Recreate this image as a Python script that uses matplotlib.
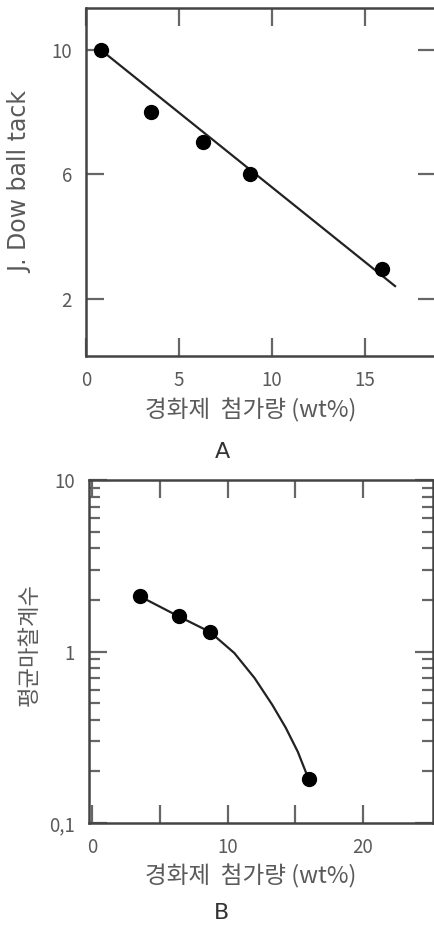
import numpy as np
import matplotlib
matplotlib.use('Agg')
import matplotlib.pyplot as plt
from matplotlib.ticker import LogLocator, NullFormatter, FixedLocator

plt.rcParams['font.family'] = ['Noto Sans CJK KR', 'DejaVu Sans']

# Panel A: J. Dow ball tack vs hardener content
a_x = [0.8, 3.5, 6.3, 8.8, 15.9]
a_y = [10.0, 8.0, 7.05, 6.0, 2.95]
a_fit_x = [0.8, 16.6]
a_fit_y = [10.0, 2.4]

# Panel B: average friction coefficient vs hardener content
b_x = [3.5, 6.4, 8.7, 16.0]
b_y = [2.1, 1.6, 1.3, 0.18]
b_curve_x = [3.5, 6.4, 8.7, 10.5, 12.0, 13.3, 14.3, 15.2, 16.0]
b_curve_y = [2.1, 1.6, 1.3, 0.98, 0.70, 0.49, 0.36, 0.26, 0.18]

xlab = '경화제  첨가량 (wt%)'
gray = '#444444'
txt = '#5a5a5a'

fig = plt.figure(figsize=(4.34, 9.25), dpi=100)

# ---- panel A
ax1 = fig.add_axes([86/434, 1 - 356/925, 350/434, 348/925])
ax1.plot(a_fit_x, a_fit_y, color='#222222', lw=1.6)
ax1.plot(a_x, a_y, 'o', color='black', ms=10)
ax1.set_xlim(0, 18.8)
ax1.set_ylim(0.15, 11.35)
ax1.set_xticks([0, 5, 10, 15])
ax1.set_yticks([2, 6, 10])
ax1.tick_params(direction='in', top=True, right=True, length=13, width=1.6,
                color='#666666', labelsize=13.5, labelcolor=txt)
ax1.tick_params(axis='x', pad=10)
ax1.tick_params(axis='y', pad=10)
ax1.set_xlabel(xlab, fontsize=17, color=txt, labelpad=3)
ax1.xaxis.set_label_coords(0.47, -0.12)
ax1.set_ylabel('J. Dow ball tack', fontsize=17, color=txt, labelpad=14,
               family='DejaVu Sans')
for s in ax1.spines.values():
    s.set_color(gray)
    s.set_linewidth(1.8)
fig.text(222/434, 1 - 452/925, 'A', ha='center', va='center',
         fontsize=16, color='#333333', family='DejaVu Sans')

# ---- panel B
ax2 = fig.add_axes([89/434, 1 - 823/925, 344/434, 343/925])
ax2.plot(b_curve_x, b_curve_y, color='#222222', lw=1.6)
ax2.plot(b_x, b_y, 'o', color='black', ms=10)
ax2.set_yscale('log')
ax2.set_xlim(-0.25, 25.2)
ax2.set_ylim(0.1, 10)
ax2.xaxis.set_major_locator(FixedLocator([0, 10, 20]))
ax2.xaxis.set_minor_locator(FixedLocator([5, 15]))
ax2.yaxis.set_major_locator(FixedLocator([0.1, 1, 10]))
ax2.yaxis.set_minor_locator(LogLocator(base=10, subs=np.arange(2, 10)))
ax2.yaxis.set_minor_formatter(NullFormatter())
ax2.set_yticklabels(['0,1', '1', '10'])
ax2.tick_params(which='major', direction='in', top=True, right=True, length=13,
                width=1.6, color='#666666', labelsize=13.5, labelcolor=txt)
ax2.tick_params(axis='x', which='major', pad=10)
ax2.tick_params(axis='y', which='major', pad=10)
ax2.tick_params(which='minor', direction='in', top=True, right=True, length=8,
                width=1.6, color='#666666')
ax2.tick_params(axis='x', which='minor', length=13)
ax2.set_xlabel(xlab, fontsize=17, color=txt, labelpad=3)
ax2.xaxis.set_label_coords(0.47, -0.12)
ax2.set_ylabel('평균마찰계수', fontsize=16, color=txt, labelpad=5)
ax2.yaxis.set_label_coords(-0.14, 0.52)
for s in ax2.spines.values():
    s.set_color(gray)
    s.set_linewidth(1.8)
fig.text(222/434, 1 - 913/925, 'B', ha='center', va='center',
         fontsize=16, color='#333333', family='DejaVu Sans')

fig.savefig('out.png', dpi=100)
